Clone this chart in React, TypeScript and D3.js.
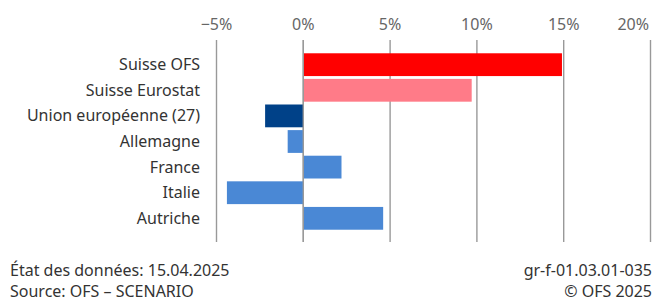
import React, { useRef, useEffect } from "react";
import * as d3 from "d3";

const categories = [
  "Suisse OFS",
  "Suisse Eurostat",
  "Union européenne (27)",
  "Allemagne",
  "France",
  "Italie",
  "Autriche",
];
const values = [14.9, 9.7, -2.2, -0.9, 2.2, -4.4, 4.6];
const barColors = ["#ff0000", "#ff7b88", "#004188", "#4a88d5", "#4a88d5", "#4a88d5", "#4a88d5"];
const tickValues = [-5, 0, 5, 10, 15, 20];
const footerLeft = ["État des données: 15.04.2025", "Source: OFS – SCENARIO"];
const footerRight = ["gr-f-01.03.01-035", "© OFS 2025"];

const W = 654;
const H = 302;

const App: React.FC = () => {
  const svgRef = useRef<SVGSVGElement | null>(null);

  useEffect(() => {
    if (!svgRef.current) return;
    const svg = d3.select(svgRef.current);
    svg.selectAll("*").remove();

    const font = "'Noto Sans', sans-serif";

    const x = d3.scaleLinear().domain([-5, 20]).range([216.5, 650.5]);
    const y = d3
      .scaleBand<string>()
      .domain(categories)
      .range([52, 231])
      .paddingInner(0.11)
      .paddingOuter(0.05);

    // grid lines
    svg
      .append("g")
      .selectAll("line")
      .data(tickValues)
      .join("line")
      .attr("x1", (d) => x(d))
      .attr("x2", (d) => x(d))
      .attr("y1", 40)
      .attr("y2", 242)
      .attr("stroke", "#999")
      .attr("stroke-width", 1.4);

    // tick labels (last one kept inside the frame)
    svg
      .append("g")
      .selectAll("text")
      .data(tickValues)
      .join("text")
      .attr("x", (d, i) => (i === tickValues.length - 1 ? 649 : x(d)))
      .attr("y", 29.5)
      .attr("text-anchor", (_, i) => (i === tickValues.length - 1 ? "end" : "middle"))
      .attr("font-family", font)
      .attr("font-size", 16)
      .attr("fill", "#666")
      .text((d) => (d < 0 ? "−" + Math.abs(d) : d) + "%");

    // bars
    svg
      .append("g")
      .selectAll("rect")
      .data(values)
      .join("rect")
      .attr("x", (d) => x(Math.min(0, d)))
      .attr("width", (d) => Math.abs(x(d) - x(0)))
      .attr("y", (_, i) => y(categories[i])!)
      .attr("height", y.bandwidth())
      .attr("fill", (_, i) => barColors[i]);

    // zero line redrawn on top
    svg
      .append("line")
      .attr("x1", x(0))
      .attr("x2", x(0))
      .attr("y1", 40)
      .attr("y2", 242)
      .attr("stroke", "#999")
      .attr("stroke-width", 1.4);

    // category labels
    svg
      .append("g")
      .selectAll("text")
      .data(categories)
      .join("text")
      .attr("x", 200)
      .attr("y", (d) => y(d)! + y.bandwidth() / 2 + 5.5)
      .attr("text-anchor", "end")
      .attr("font-family", font)
      .attr("font-size", 16)
      .attr("fill", "#333")
      .text((d) => d);

    // footer
    const foot = svg.append("g").attr("font-family", font).attr("font-size", 16).attr("fill", "#333");
    footerLeft.forEach((t, i) => {
      foot.append("text").attr("x", 10).attr("y", 276 + i * 21).text(t);
    });
    footerRight.forEach((t, i) => {
      foot
        .append("text")
        .attr("x", 652)
        .attr("y", 276 + i * 21)
        .attr("text-anchor", "end")
        .text(t);
    });
  }, []);

  return (
    <svg
      ref={svgRef}
      width={W}
      height={H}
      style={{ position: "absolute", left: 0, top: 0, background: "#fff" }}
    />
  );
};

export default App;
